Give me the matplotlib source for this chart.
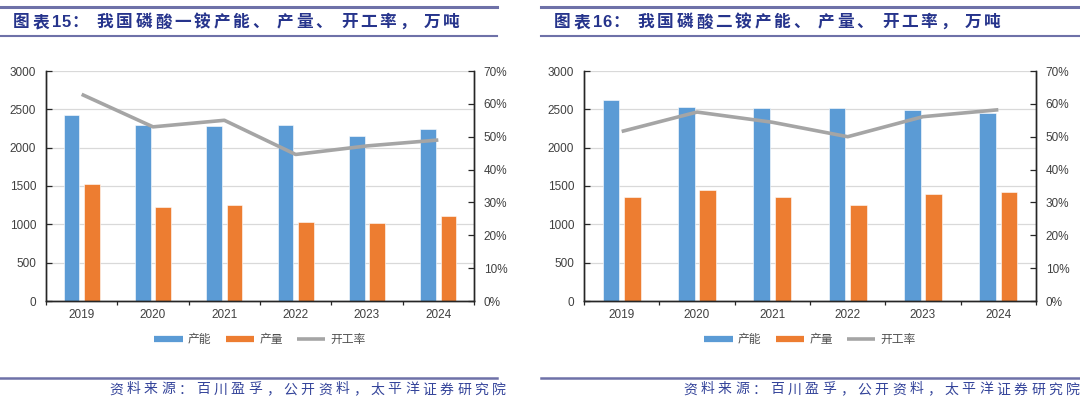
import matplotlib
matplotlib.use("Agg")
import matplotlib.pyplot as plt
from matplotlib.lines import Line2D
import numpy as np

plt.rcParams['font.family'] = ['Liberation Sans', 'Noto Sans CJK SC', 'DejaVu Sans']

# ---------------- data ----------------
years = ['2019', '2020', '2021', '2022', '2023', '2024']

map_capacity = [2421, 2295, 2277, 2295, 2147, 2242]
map_output = [1520, 1224, 1258, 1027, 1019, 1106]
map_rate = [62.9, 53.0, 55.0, 44.6, 47.2, 49.0]

dap_capacity = [2621, 2525, 2517, 2517, 2491, 2447]
dap_output = [1354, 1454, 1354, 1258, 1398, 1424]
dap_rate = [51.6, 57.5, 54.4, 50.0, 56.1, 58.2]

title_left = '图表15：我国磷酸一铵产能、产量、开工率，万吨'
title_right = '图表16：我国磷酸二铵产能、产量、开工率，万吨'
source_text = '资料来源：百川盈孚，公开资料，太平洋证券研究院'
legend_labels = ['产能', '产量', '开工率']
left_ticks = [0, 500, 1000, 1500, 2000, 2500, 3000]
right_ticks = [0, 10, 20, 30, 40, 50, 60, 70]

BLUE = '#5B9BD5'
ORANGE = '#ED7D31'
GRAY = '#A5A5A5'
NAVY = '#26348C'
RULE = '#6E71A8'
TXT = '#404040'

W, H = 1080, 399
fig = plt.figure(figsize=(W / 100, H / 100), dpi=100)


def fx(px):
    return px / W


def fy(py):
    return 1 - py / H


def spaced(x0, y, text, pitch_cjk, pitch_punct, pitch_digit, **kw):
    x = x0
    for c in text:
        fig.text(fx(x), fy(y), c, ha='left', va='center', **kw)
        if c in '、，：':
            x += pitch_punct
        elif c.isdigit():
            x += pitch_digit
        else:
            x += pitch_cjk


def text_width(text, pitch_cjk, pitch_punct, pitch_digit, last_w):
    w = 0
    for c in text[:-1]:
        if c in '、，：':
            w += pitch_punct
        elif c.isdigit():
            w += pitch_digit
        else:
            w += pitch_cjk
    return w + last_w


def draw_panel(x0, x1, cap, out, rate):
    ax = fig.add_axes([fx(x0), fy(301), fx(x1 - x0), (301 - 71) / H])
    x = np.arange(len(years))
    bw = 0.22
    off = 0.143
    ax.bar(x - off, cap, width=bw, color=BLUE, edgecolor='white', linewidth=0.4, zorder=2)
    ax.bar(x + off, out, width=bw, color=ORANGE, edgecolor='white', linewidth=0.4, zorder=2)
    ax.set_ylim(0, 3000)
    ax.set_yticks(left_ticks)
    ax.set_xlim(-0.5, len(years) - 0.5)
    ax.set_xticks(np.arange(-0.5, len(years), 1.0))
    ax.set_xticklabels([])
    ax.set_xticks(x, minor=True)
    ax.set_xticklabels(years, minor=True)
    ax.tick_params(axis='x', which='major', direction='out', length=3, width=0.9, color='#262626')
    ax.tick_params(axis='x', which='minor', length=0, pad=6, labelsize=8.5, labelcolor=TXT)
    ax.tick_params(axis='y', direction='in', length=4, width=0.9, color='#262626',
                   pad=7, labelsize=8.5, labelcolor=TXT)
    ax.grid(axis='y', color='#D9D9D9', linewidth=0.9, zorder=0)
    ax.set_axisbelow(True)
    for s in ['left', 'right', 'bottom']:
        ax.spines[s].set_color('#262626')
        ax.spines[s].set_linewidth(1.0)
    ax.spines['top'].set_visible(False)

    ax2 = ax.twinx()
    ax2.plot(x, rate, color=GRAY, linewidth=2.6, solid_capstyle='butt', zorder=3)
    ax2.set_ylim(0, 70)
    ax2.set_yticks(right_ticks)
    ax2.set_yticklabels([f'{t}%' for t in right_ticks])
    ax2.tick_params(axis='y', direction='in', length=4, width=0.9, color='#262626',
                    pad=7, labelsize=8.5, labelcolor=TXT)
    for s in ['left', 'right', 'bottom']:
        ax2.spines[s].set_color('#262626')
        ax2.spines[s].set_linewidth(1.0)
    ax2.spines['top'].set_visible(False)

    handles = [Line2D([], [], color=BLUE, linewidth=4.5, solid_capstyle='butt'),
               Line2D([], [], color=ORANGE, linewidth=4.5, solid_capstyle='butt'),
               Line2D([], [], color=GRAY, linewidth=2.6, solid_capstyle='butt')]
    cx = (x0 + x1) / 2
    fig.legend(handles, legend_labels, loc='center', bbox_to_anchor=(fx(cx), fy(340)),
               ncol=3, frameon=False, fontsize=8.5, handlelength=2.4, handletextpad=0.45,
               columnspacing=1.2, labelcolor='#505050')


def hline(xa, xb, y, lw, color=RULE):
    fig.add_artist(Line2D([fx(xa), fx(xb)], [fy(y), fy(y)], color=color, linewidth=lw,
                          transform=fig.transFigure))


for xa, xb in [(0, 497), (541, 1080)]:
    hline(xa, xb, 6.5, 2.2)
    hline(xa, xb, 36, 1.5)
    hline(xa, xb, 377.5, 1.8)

draw_panel(46, 474, map_capacity, map_output, map_rate)
draw_panel(584, 1036, dap_capacity, dap_output, dap_rate)

tkw = dict(color=NAVY, fontsize=12, fontweight='bold')
spaced(13, 22.5, title_left, 19.4, 25, 10, **tkw)
spaced(554, 22.5, title_right, 19.4, 25, 10, **tkw)

skw = dict(color='#34449A', fontsize=10)
sw = text_width(source_text, 17.4, 17.4, 17.4, 13)
spaced(505 - sw, 389.5, source_text, 17.4, 17.4, 17.4, **skw)
spaced(1079 - sw, 389.5, source_text, 17.4, 17.4, 17.4, **skw)

fig.savefig('out.png', dpi=100)
